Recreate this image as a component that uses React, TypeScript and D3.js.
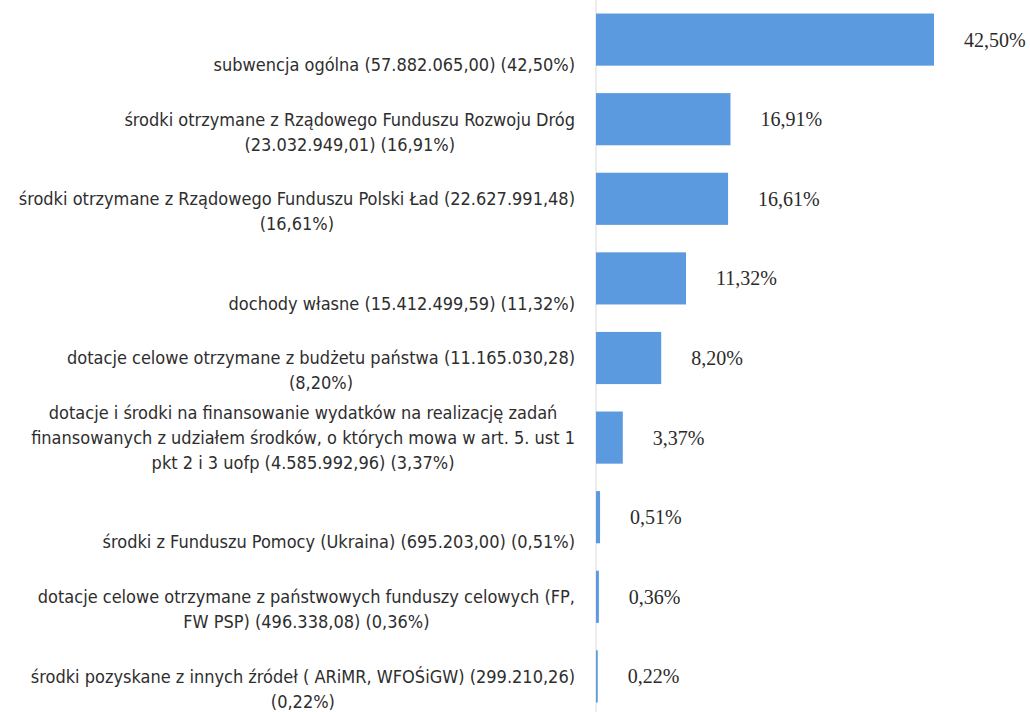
import React, { useEffect, useRef } from "react"
import * as d3 from "d3"

// shares of revenue, in percent
const values = [42.5, 16.91, 16.61, 11.32, 8.2, 3.37, 0.51, 0.36, 0.22]

const valueLabels = ["42,50%", "16,91%", "16,61%", "11,32%", "8,20%", "3,37%", "0,51%", "0,36%", "0,22%"]

// category labels, already wrapped the way the chart wraps them
const categoryLines = [
    ["subwencja ogólna (57.882.065,00) (42,50%)"],
    ["środki otrzymane z Rządowego Funduszu Rozwoju Dróg", "(23.032.949,01) (16,91%)"],
    ["środki otrzymane z Rządowego Funduszu Polski Ład (22.627.991,48)", "(16,61%)"],
    ["dochody własne (15.412.499,59) (11,32%)"],
    ["dotacje celowe otrzymane z budżetu państwa (11.165.030,28)", "(8,20%)"],
    [
        "dotacje i środki na finansowanie wydatków na realizację zadań",
        "finansowanych z udziałem środków, o których mowa w art. 5. ust 1",
        "pkt 2 i 3 uofp (4.585.992,96) (3,37%)",
    ],
    ["środki z Funduszu Pomocy (Ukraina) (695.203,00) (0,51%)"],
    ["dotacje celowe otrzymane z państwowych funduszy celowych (FP,", "FW PSP) (496.338,08) (0,36%)"],
    ["środki pozyskane z innych źródeł ( ARiMR, WFOŚiGW) (299.210,26)", "(0,22%)"],
]

const width = 1030
const height = 712
const axisX = 596
const labelRight = 575
const lineHeight = 25

export default function App() {
    const ref = useRef<SVGGElement>(null)

    useEffect(() => {
        if (!ref.current) return
        const g = d3.select(ref.current)
        g.selectAll("*").remove()

        const idx = d3.range(values.length)

        const y = d3.scaleBand<number>()
            .domain(idx)
            .range([0, 716])
            .paddingInner(0.345)
            .paddingOuter(0.17)

        const x = d3.scaleLinear()
            .domain([0, 42.5])
            .range([axisX, 934])

        // axis line
        g.append("line")
            .attr("x1", axisX).attr("x2", axisX)
            .attr("y1", 0).attr("y2", height)
            .attr("stroke", "#d9d9d9")
            .attr("stroke-width", 1)

        g.selectAll("rect.bar")
            .data(idx)
            .join("rect")
            .attr("class", "bar")
            .attr("x", x(0))
            .attr("y", i => y(i)!)
            .attr("width", i => Math.max(1, x(values[i]) - x(0)))
            .attr("height", y.bandwidth())
            .attr("fill", "#5b9ade")

        g.selectAll("text.value")
            .data(idx)
            .join("text")
            .attr("class", "value")
            .attr("x", i => x(values[i]) + 30)
            .attr("y", i => y(i)! + y.bandwidth() / 2)
            .attr("dy", "0.35em")
            .attr("font-family", "'Liberation Serif', serif")
            .attr("font-size", 20)
            .attr("fill", "#2b2b2b")
            .text(i => valueLabels[i])

        // category labels: each block right-aligned, lines centred within the block
        idx.forEach(i => {
            const lines = categoryLines[i]
            const mid = y(i)! + y.bandwidth() / 2
            const block = g.append("g")
            const texts = block.selectAll("text")
                .data(lines)
                .join("text")
                .attr("y", (_, k) => mid + 25 - (lines.length - 1 - k) * lineHeight)
                .attr("dy", "0.35em")
                .attr("text-anchor", "middle")
                .attr("font-family", "'DejaVu Sans Condensed', 'Liberation Sans Narrow', sans-serif")
                .attr("font-size", 18)
                .attr("fill", "#2e2e2e")
                .text(d => d)
            let maxW = 0
            texts.each(function () {
                maxW = Math.max(maxW, (this as SVGTextElement).getComputedTextLength())
            })
            texts.attr("x", labelRight - maxW / 2)
        })
    }, [])

    return (
        <svg width={width} height={height} style={{ position: "absolute", left: 0, top: 0, background: "#fff" }}>
            <g ref={ref} />
        </svg>
    )
}
